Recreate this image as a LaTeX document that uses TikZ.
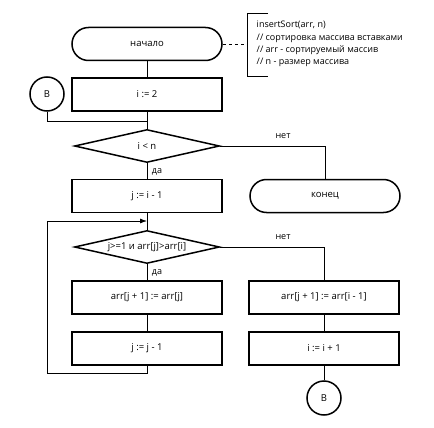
\documentclass[tikz,border=0pt]{standalone}
\usepackage{fontspec}
\setmainfont{Open Sans}
\usetikzlibrary{shapes.geometric,arrows.meta}
\tikzset{
  block/.style={draw, line width=1.5pt, minimum width=150pt, minimum height=33pt, inner sep=0pt},
  term/.style={block, rounded corners=16.5pt},
  cond/.style={draw, line width=1.5pt, diamond, aspect=4.4, inner sep=0pt, minimum width=145pt, minimum height=33pt},
  conn/.style={draw, line width=1.5pt, circle, minimum size=34pt, inner sep=0pt},
  lbl/.style={inner sep=0pt, font=\fontsize{9}{11}\selectfont}
}
\begin{document}
\begin{tikzpicture}[x=1pt, y=-1pt, font=\fontsize{9.5}{11}\selectfont, line width=0.8pt]
  \useasboundingbox (0,0) rectangle (434,428);
  \fill[white] (0,0) rectangle (434,428);
  \draw
    (147,44) node[term] (start){начало}
    (147,94.5) node[block] (init){i := 2}
    (47,94) node[conn] (b1){В}
    (147,146) node[cond] (c1){i < n}
    (325,196) node[term] (stop){конец}
    (147,196) node[block] (ji){j := i - 1}
    (147,247) node[cond] (c2){j>=1 и arr[j]>arr[i]}
    (147,297.5) node[block] (sw){arr[j + 1] := arr[j]}
    (147,348.5) node[block] (jdec){j := j - 1}
    (324,297.5) node[block] (sh){arr[j + 1] := arr[i - 1]}
    (324,348.5) node[block] (inc){i := i + 1}
    (324,398) node[conn] (b2){В};
  \coordinate (join) at (147,121);
  \coordinate (loopl) at (47,373);
  \coordinate (loopa) at (147,221);
  \coordinate (brk) at (247,44);
  \node[anchor=west, align=left, font=\fontsize{9}{12.4}\selectfont] (note) at (253,44)
    {insertSort(arr, n)\\// сортировка массива вставками\\// arr - сортируемый массив\\// n - размер массива};
  \begin{scope}[-]
    \draw (start) to (init);
    \draw (init) to (c1);
    \draw (b1) |- (join);
    \draw (c1.east) -| (stop);
    \draw (c1) to (ji);
    \draw (ji) to (c2);
    \draw[-{Latex[length=7pt,width=5pt]}] (jdec.south) |- (loopl) |- (loopa);
    \draw (c2.east) -| (sh);
    \draw (c2) to (sw);
    \draw (sw) to (jdec);
    \draw (sh) to (inc);
    \draw (inc) to (b2);
    \draw[dashed] (start.east) to (brk);
    \draw (268,13) -- (247,13) -- (247,76) -- (268,76);
  \end{scope}
  \node[lbl] (no1) at (283,136) {нет};
  \node[lbl] (yes1) at (157,172) {да};
  \node[lbl] (no2) at (283,237) {нет};
  \node[lbl] (yes2) at (157,273) {да};
\end{tikzpicture}
\end{document}
